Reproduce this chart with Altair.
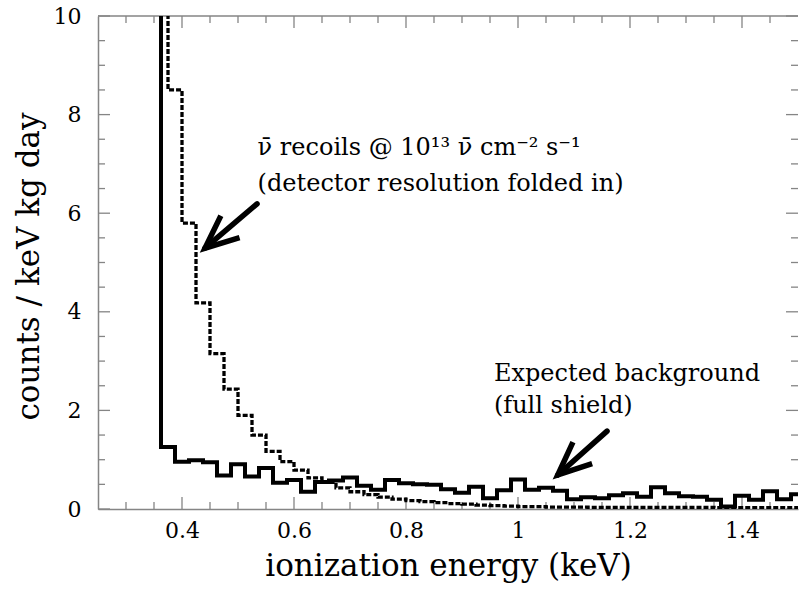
import math

import altair as alt
import pandas as pd

# ---------------------------------------------------------------------------
# Spectra (counts / keV kg day), histogrammed in 0.025 keV bins.
# Each list gives the bin contents starting at the listed left edge.
# ---------------------------------------------------------------------------
BIN_WIDTH = 0.025

# Expected background with the full shield; the first bin rises far off scale
background_start = 0.3375
background_counts = [
    40.0, 1.26, 0.96, 0.99, 0.95, 0.68, 0.91, 0.66, 0.83, 0.53,
    0.59, 0.35, 0.55, 0.58, 0.64, 0.47, 0.39, 0.59, 0.52, 0.50,
    0.49, 0.40, 0.33, 0.45, 0.22, 0.38, 0.60, 0.39, 0.43, 0.37,
    0.20, 0.24, 0.22, 0.28, 0.32, 0.25, 0.44, 0.32, 0.26, 0.25,
    0.19, 0.05, 0.27, 0.19, 0.36, 0.20, 0.30,
]

# Antineutrino recoils at 1e13 /cm2/s, detector resolution folded in
recoil_start = 0.35
recoil_counts = [
    40.0, 8.5, 5.8, 4.18, 3.15, 2.43, 1.9, 1.5, 1.17, 0.96,
    0.79, 0.63, 0.54, 0.43, 0.35, 0.29, 0.24, 0.20, 0.17, 0.15,
    0.13, 0.11, 0.10, 0.08, 0.07, 0.06, 0.05, 0.05, 0.04, 0.04,
    0.04, 0.035, 0.035, 0.035, 0.03, 0.03, 0.03, 0.03, 0.03, 0.03,
    0.025, 0.025, 0.025, 0.025, 0.025, 0.025,
]

# Axis ranges and tick marks
x_domain = [0.25, 1.5]
y_domain = [0, 10]
x_major = [0.4, 0.6, 0.8, 1.0, 1.2, 1.4]
x_minor = [0.3, 0.35, 0.45, 0.5, 0.55, 0.65, 0.7, 0.75, 0.85, 0.9, 0.95,
           1.05, 1.1, 1.15, 1.25, 1.3, 1.35, 1.45]
y_major = [0, 2, 4, 6, 8, 10]
y_minor = [0.5, 1, 1.5, 2.5, 3, 3.5, 4.5, 5, 5.5, 6.5, 7, 7.5, 8.5, 9, 9.5]

# Annotations: text lines (left edge, baseline) and arrows (tail -> tip)
note_text = [
    "\u03bd\u0304 recoils @ 10\u00b9\u00b3 \u03bd\u0304 cm\u207b\u00b2 s\u207b\u00b9",
    "(detector resolution folded in)",
    "Expected background",
    "(full shield)",
]
note_energy = [0.535, 0.535, 0.957, 0.957]
note_rate = [7.18, 6.45, 2.60, 1.95]

arrow_tail_energy = [0.534, 1.159]
arrow_tail_rate = [6.19, 1.58]
arrow_tip_energy = [0.441, 1.071]
arrow_tip_rate = [5.29, 0.69]

# ---------------------------------------------------------------------------
W, H = 700, 493
FRAME = "#858585"
SERIF = "DejaVu Serif"
MAJOR_LEN, MINOR_LEN = 12, 7


def histogram_frame(start, counts):
    """Left bin edges plus a closing point so the last bin is drawn in full."""
    edges = [start + i * BIN_WIDTH for i in range(len(counts))]
    edges.append(edges[-1] + BIN_WIDTH)
    values = list(counts) + [counts[-1]]
    return pd.DataFrame({"energy": edges, "rate": values})


x_axis = alt.Axis(
    values=x_major, format="~g", ticks=False, tickSize=0, grid=False,
    labelPadding=11, labelFont=SERIF, labelFontSize=22, labelColor="black",
    labelFlush=False, labelOverlap=False,
    domainColor=FRAME, domainWidth=1.5,
    title="ionization energy (keV)", titleFont=SERIF, titleFontSize=31,
    titleFontWeight="normal", titleColor="black",
    titleX=W / 2, titleY=66, titleBaseline="alphabetic", titleAlign="center",
)
y_axis = alt.Axis(
    values=y_major, format="d", ticks=False, tickSize=0, grid=False,
    labelPadding=17, labelFont=SERIF, labelFontSize=22, labelColor="black",
    labelFlush=False, labelOverlap=False, labelBaseline="middle",
    domainColor=FRAME, domainWidth=1.5,
    title="counts / keV kg day", titleFont=SERIF, titleFontSize=31,
    titleFontWeight="normal", titleColor="black",
    titleX=-60, titleY=250, titleAngle=270, titleBaseline="alphabetic",
    titleAlign="center",
)

x_enc = alt.X("energy:Q", scale=alt.Scale(domain=x_domain, nice=False, zero=False), axis=x_axis)
y_enc = alt.Y("rate:Q", scale=alt.Scale(domain=y_domain, nice=False, zero=False), axis=y_axis)

# Histograms
background = alt.Chart(histogram_frame(background_start, background_counts)).mark_line(
    interpolate="step-after", clip=True, color="black", strokeWidth=4
).encode(x=x_enc, y=y_enc)

recoils = alt.Chart(histogram_frame(recoil_start, recoil_counts)).mark_line(
    interpolate="step-after", clip=True, color="black", strokeWidth=3.3,
    strokeDash=[5, 2]
).encode(x=x_enc, y=y_enc)


# Inward-pointing ticks on all four sides, plus the top frame line
def x_ticks(values, length, top):
    df = pd.DataFrame({"energy": values})
    y0 = 0 if top else H
    y1 = length if top else H - length
    return alt.Chart(df).mark_rule(color=FRAME, strokeWidth=1.3).encode(
        x=x_enc, y=alt.value(y0), y2=alt.value(y1)
    )


def y_ticks(values, length, right):
    df = pd.DataFrame({"rate": values})
    x0 = W if right else 0
    x1 = W - length if right else length
    return alt.Chart(df).mark_rule(color=FRAME, strokeWidth=1.3).encode(
        y=y_enc, x=alt.value(x0), x2=alt.value(x1)
    )


tick_layers = [
    x_ticks(x_major, MAJOR_LEN, False), x_ticks(x_minor, MINOR_LEN, False),
    x_ticks(x_major, MAJOR_LEN, True), x_ticks(x_minor, MINOR_LEN, True),
    y_ticks(y_major, MAJOR_LEN, False), y_ticks(y_minor, MINOR_LEN, False),
    y_ticks(y_major, MAJOR_LEN, True), y_ticks(y_minor, MINOR_LEN, True),
]

top_frame = alt.Chart(pd.DataFrame({"side": ["top"]})).mark_rule(
    color=FRAME, strokeWidth=1.5
).encode(x=alt.value(0), x2=alt.value(W), y=alt.value(0))

# Annotation text
notes = alt.Chart(pd.DataFrame({
    "energy": note_energy, "rate": note_rate, "label": note_text,
})).mark_text(
    align="left", baseline="alphabetic", font=SERIF, fontSize=24, color="black"
).encode(x=x_enc, y=y_enc, text="label:N")

# Arrows: a thick shaft and an open chevron head rotated along the shaft
px_per_kev = W / (x_domain[1] - x_domain[0])
px_per_rate = H / (y_domain[1] - y_domain[0])
angles = []
for tx, ty, hx, hy in zip(arrow_tail_energy, arrow_tail_rate, arrow_tip_energy, arrow_tip_rate):
    dx = (hx - tx) * px_per_kev
    dy = -(hy - ty) * px_per_rate
    angles.append(math.degrees(math.atan2(dy, dx)) % 360)

arrows_df = pd.DataFrame({
    "energy": arrow_tail_energy, "rate": arrow_tail_rate,
    "energy2": arrow_tip_energy, "rate2": arrow_tip_rate,
})
heads_df = pd.DataFrame({
    "energy": arrow_tip_energy, "rate": arrow_tip_rate, "angle": angles,
})

shafts = alt.Chart(arrows_df).mark_rule(
    color="black", strokeWidth=5.5, strokeCap="round"
).encode(x=x_enc, y=y_enc, x2="energy2:Q", y2="rate2:Q")

heads = alt.Chart(heads_df).mark_point(
    shape="M -0.92 -0.4 L 0 0 L -0.92 0.4", filled=False, color="black",
    strokeWidth=5.5, strokeJoin="miter", opacity=1, size=5200,
).encode(x=x_enc, y=y_enc, angle=alt.Angle("angle:Q", scale=None))

chart = alt.layer(
    *tick_layers, top_frame, background, recoils, notes, shafts, heads
).properties(
    width=W, height=H,
    autosize=alt.AutoSizeParams(type="none"),
    padding={"left": 98, "top": 16, "right": 1, "bottom": 80},
    background="white",
).configure_view(stroke=None)

chart.save("out.html", embed_options={"renderer": "svg", "actions": False})
